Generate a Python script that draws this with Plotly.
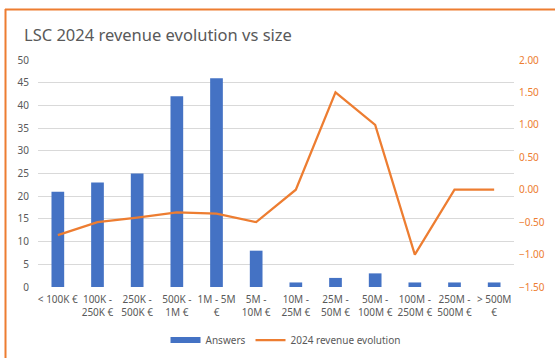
import plotly.graph_objects as go

# Revenue size bands
categories = ["< 100K €", "100K -<br>250K €", "250K -<br>500K €", "500K -<br>1M €",
              "1M - 5M<br>€", "5M -<br>10M €", "10M -<br>25M €", "25M -<br>50M €",
              "50M -<br>100M €", "100M -<br>250M €", "250M -<br>500M €", "> 500M<br>€"]
# Number of answers per band (left axis)
answers = [21, 23, 25, 42, 46, 8, 1, 2, 3, 1, 1, 1]
# Average 2024 revenue evolution per band (right axis)
revenue_evolution = [-0.70, -0.50, -0.43, -0.35, -0.37, -0.50, 0.00, 1.50, 1.00, -1.00, 0.00, 0.00]

left_ticks = list(range(0, 51, 5))
right_ticks = [-1.5, -1.0, -0.5, 0.0, 0.5, 1.0, 1.5, 2.0]

BLUE = "#4472C4"
ORANGE = "#ED7D31"
GREY = "#595959"
FONT = "Noto Sans"

fig = go.Figure()
fig.add_trace(go.Bar(x=categories, y=answers, name="Answers", showlegend=False,
                     legendgroup="answers",
                     marker=dict(color=BLUE, line=dict(width=0))))
# Wide flat legend key for the bar series
fig.add_trace(go.Scatter(x=[None], y=[None], name="Answers", mode="lines",
                         legendgroup="answers", line=dict(color=BLUE, width=6)))
fig.add_trace(go.Scatter(x=categories, y=revenue_evolution, name="2024 revenue evolution",
                         mode="lines", yaxis="y2",
                         line=dict(color=ORANGE, width=2.25)))

fig.update_layout(
    width=555, height=358,
    margin=dict(l=38, r=41, t=60, b=71, autoexpand=False),
    paper_bgcolor="white", plot_bgcolor="white",
    font=dict(family=FONT, size=10, color=GREY),
    title=dict(text="LSC 2024 revenue evolution vs size", x=24 / 555, xref="container",
               xanchor="left", y=1 - 35 / 358, yref="container", yanchor="middle",
               font=dict(family=FONT, size=16.5, color=GREY)),
    bargap=0.68,
    showlegend=True,
    legend=dict(orientation="h", x=0.52, xref="paper", xanchor="center",
                y=-0.17, yref="paper", yanchor="top", itemwidth=30,
                font=dict(family=FONT, size=10, color=GREY)),
    xaxis=dict(showline=False, ticks="", tickangle=0, showgrid=False,
               ticklabelstandoff=5, tickfont=dict(size=10, color=GREY)),
    yaxis=dict(range=[0, 50], tickvals=left_ticks, showgrid=True, gridcolor="#D9D9D9",
               gridwidth=1, zeroline=False, showline=False, ticks="",
               ticklabelstandoff=8, tickfont=dict(size=10, color=GREY)),
    yaxis2=dict(range=[-1.5, 2.0], tickvals=right_ticks, tickformat=".2f",
                overlaying="y", side="right", showgrid=False, zeroline=False,
                showline=False, ticks="", ticklabelstandoff=4,
                tickfont=dict(size=10, color=ORANGE)),
)

# Orange frame along the top and left edges
fig.add_shape(type="line", xref="x domain", yref="y domain",
              x0=-33 / 476, x1=1 + 45 / 476, y0=1 + 50.5 / 227, y1=1 + 50.5 / 227,
              line=dict(color=ORANGE, width=2))
fig.add_shape(type="line", xref="x domain", yref="y domain",
              x0=-32.5 / 476, x1=-32.5 / 476, y0=1 + 51 / 227, y1=-75 / 227,
              line=dict(color=ORANGE, width=2))

fig.write_html("out.html")
